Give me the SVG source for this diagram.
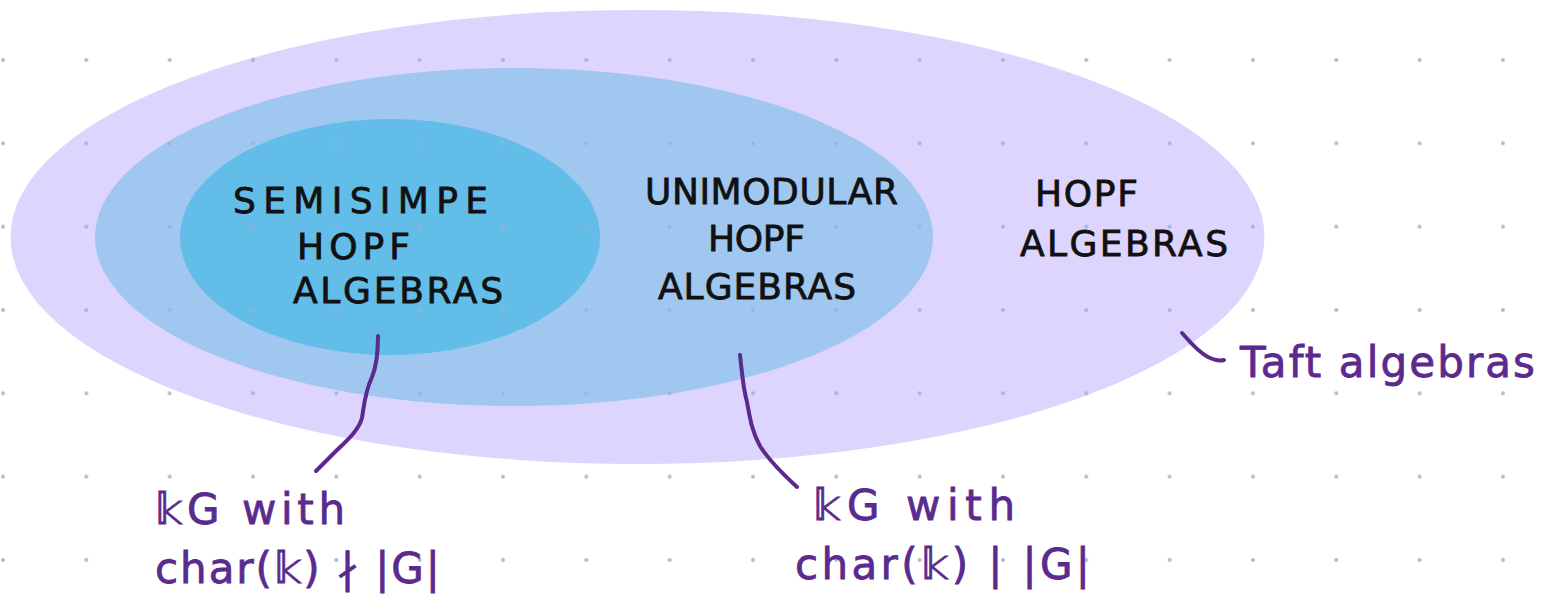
<svg xmlns="http://www.w3.org/2000/svg" width="1545" height="596" viewBox="0 0 1545 596">
<defs>
<style>
.cap{font-family:"DejaVu Sans","Liberation Sans",sans-serif;font-size:36px;fill:#111;stroke:#111;stroke-width:0.8;}
.hand{font-family:"DejaVu Sans","Liberation Sans",sans-serif;font-size:42px;fill:#5b2a8e;stroke:#5b2a8e;stroke-width:0.8;}
.conn{fill:none;stroke:#5b2a8e;stroke-width:4;stroke-linecap:round;stroke-linejoin:round;}
.dot{fill:#9cb0cc;opacity:0.85;}
</style>
<pattern id="grid" x="3" y="60" width="83.33" height="83.33" patternUnits="userSpaceOnUse">
<circle class="dot" cx="0" cy="0" r="2"/>
<circle class="dot" cx="83.33" cy="0" r="2"/>
<circle class="dot" cx="0" cy="83.33" r="2"/>
<circle class="dot" cx="83.33" cy="83.33" r="2"/>
</pattern>
</defs>
<rect width="1545" height="596" fill="#ffffff"/>
<g id="hopf">
<ellipse cx="637.5" cy="237" rx="627" ry="227" fill="#ddd5fe"/>
</g>
<g id="unimodular">
<ellipse cx="514" cy="237" rx="419" ry="169" fill="#9fc7f0"/>
</g>
<g id="semisimple">
<ellipse cx="390" cy="237" rx="210" ry="118" fill="#62bde8"/>
</g>
<rect x="0" y="0" width="1545" height="596" fill="url(#grid)"/>
<g id="semisimple-label">
<text class="cap" x="233" y="213" textLength="255" lengthAdjust="spacing">SEMISIMPE</text>
<text class="cap" x="297" y="259" textLength="113" lengthAdjust="spacing">HOPF</text>
<text class="cap" x="293" y="303" textLength="210" lengthAdjust="spacing">ALGEBRAS</text>
</g>
<g id="unimodular-label">
<text class="cap" x="645" y="204" textLength="253" lengthAdjust="spacing">UNIMODULAR</text>
<text class="cap" x="708" y="251" textLength="97" lengthAdjust="spacing">HOPF</text>
<text class="cap" x="658" y="299" textLength="198" lengthAdjust="spacing">ALGEBRAS</text>
</g>
<g id="hopf-label">
<text class="cap" x="1035" y="206" textLength="103" lengthAdjust="spacing">HOPF</text>
<text class="cap" x="1020" y="256" textLength="208" lengthAdjust="spacing">ALGEBRAS</text>
</g>
<g id="kg-nondiv">
<text class="hand" x="155" y="524" textLength="190" lengthAdjust="spacing">𝕜G with</text>
<text class="hand" x="155" y="583" textLength="285" lengthAdjust="spacing">char(𝕜) ∤ |G|</text>
</g>
<g id="kg-div">
<text class="hand" x="813" y="520" textLength="202" lengthAdjust="spacing">𝕜G with</text>
<text class="hand" x="795" y="579" textLength="295" lengthAdjust="spacing">char(𝕜) | |G|</text>
</g>
<g id="taft">
<text class="hand" x="1240" y="377" textLength="295" lengthAdjust="spacing">Taft algebras</text>
</g>
<g id="connectors">
<path class="conn" d="M378,336 C378,350 377,365 372,377 C365,392 364,405 362,418 C358,432 345,442 332,455 C325,462 320,467 316,471"/>
<path class="conn" d="M740,355 C742,372 743,388 747,402 C750,418 752,432 760,446 C770,462 785,476 797,487"/>
<path class="conn" d="M1182,333 C1190,342 1198,352 1208,357 C1214,360 1220,361 1224,360"/>
</g>
</svg>
